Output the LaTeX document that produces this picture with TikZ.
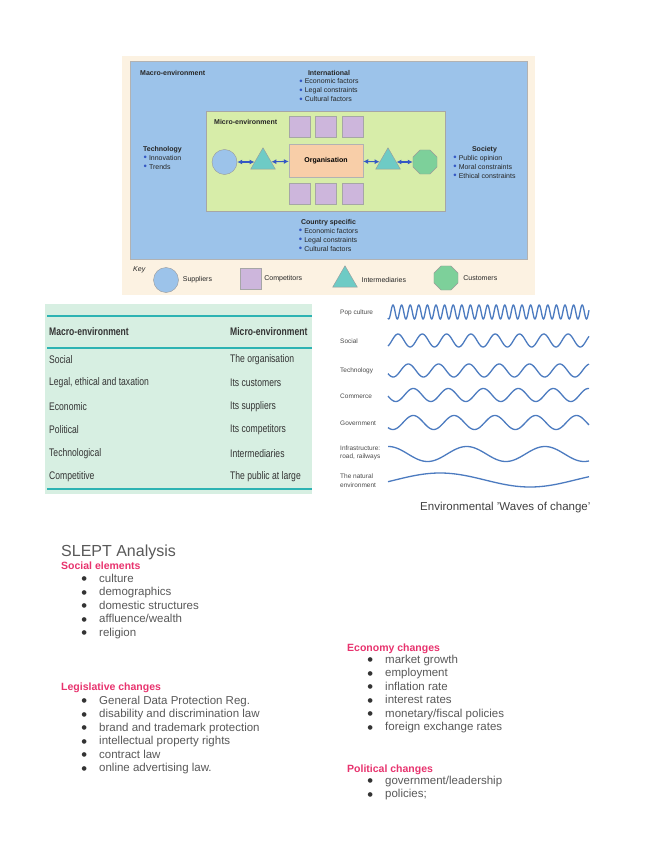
\documentclass[tikz,border=0pt]{standalone}
\usepackage{fontspec}
\setmainfont{Liberation Sans}
\newfontfamily\narrowfont[FakeStretch=0.78]{Liberation Sans}
\newfontfamily\symbolfont{DejaVu Sans}
\usetikzlibrary{positioning,shapes.geometric,arrows.meta}
\definecolor{cream}{HTML}{FCF2E2}
\definecolor{macroblue}{HTML}{9CC3EA}
\definecolor{microgreen}{HTML}{D7EDA9}
\definecolor{orgorange}{HTML}{F8CEA8}
\definecolor{compurple}{HTML}{CDB6DC}
\definecolor{interteal}{HTML}{6ECBC5}
\definecolor{custgreen}{HTML}{7DD09A}
\definecolor{dotblue}{HTML}{3558C4}
\definecolor{tablegreen}{HTML}{D7EFE2}
\definecolor{tableteal}{HTML}{2DB3B3}
\definecolor{wavecol}{HTML}{4C7BC0}
\definecolor{headpink}{HTML}{E8336E}
\definecolor{textgray}{HTML}{595959}
\definecolor{bulletgray}{HTML}{333333}
\newcommand{\bluedot}{\raisebox{-0.6pt}{\fontsize{9.5}{9}\selectfont\textcolor{dotblue}{\textbullet}}\hspace{2pt}}
\newcommand{\greydot}{\makebox[17pt][l]{\hspace{-0.5pt}\raisebox{1.6pt}{\symbolfont\fontsize{6}{13.5}\selectfont\textcolor{bulletgray}{●}}}}
\begin{document}
\begin{tikzpicture}[x=1pt,y=-1pt,
  dtext/.style={font=\fontsize{7}{9}\selectfont, inner sep=0pt, align=left, text=black!85},
  dhead/.style={font=\fontsize{7}{9}\selectfont\bfseries, inner sep=0pt, text depth=0pt, text=black!85},
  supplier/.style={circle, draw=black!40, fill=macroblue, minimum size=25pt, inner sep=0pt},
  competitor/.style={rectangle, draw=black!35, fill=compurple, minimum size=21pt, inner sep=0pt},
  intermediary/.style={regular polygon, regular polygon sides=3, draw=black!40, fill=interteal, minimum size=28.5pt, inner sep=0pt},
  customer/.style={regular polygon, regular polygon sides=8, draw=black!40, fill=custgreen, minimum size=26pt, inner sep=0pt},
  twoway/.style={{Latex[length=5pt,width=5pt]}-{Latex[length=5pt,width=5pt]}, draw=dotblue, line width=1.1pt},
  tabcell/.style={font=\narrowfont\fontsize{11}{13}\selectfont, text=black!80, inner sep=0pt, anchor=west},
  tabhead/.style={tabcell, font=\narrowfont\fontsize{11}{13}\selectfont\bfseries},
  tabrule/.style={draw=tableteal, line width=2pt},
  wavepen/.style={draw=wavecol, line width=1.3pt},
  wavelabel/.style={font=\fontsize{6.5}{8.5}\selectfont, text=black!70, inner sep=0pt, anchor=west, align=left},
  slepthead/.style={font=\fontsize{10.5}{12}\selectfont\bfseries, text=headpink, inner sep=0pt, anchor=base west},
  sleptlist/.style={font=\fontsize{11.5}{13.5}\selectfont, text=textgray, inner sep=0pt, anchor=north west, align=left}]
\useasboundingbox (0,0) rectangle (655,848);
\fill[white] (0,0) rectangle (655,848);

% Micro and macro environment
\node (panel) at (328.5,175.5) [rectangle, fill=cream, minimum width=413pt, minimum height=239pt] {};
\node (macroenv) at (328.5,160) [rectangle, draw=black!30, fill=macroblue, minimum width=397pt, minimum height=198pt] {};
\node (microenv) at (325.5,161) [rectangle, draw=black!35, fill=microgreen, minimum width=239pt, minimum height=100pt] {};
\node (macrolabel) at (140,73) [dhead, anchor=west] {Macro-environment};
\node (microlabel) at (214,122) [dhead, anchor=west] {Micro-environment};

\node (intlhead) at (329,75.2) [dhead, anchor=base] {International};
\node (intllist) [dtext, below=2pt of intlhead] {\strut\bluedot Economic factors\\\bluedot Legal constraints\\\bluedot Cultural factors};
\node (techhead) at (162.5,151.5) [dhead, anchor=base] {Technology};
\node (techlist) [dtext, below=2pt of techhead] {\strut\bluedot Innovation\\\bluedot Trends};
\node (sochead) at (484.5,151.5) [dhead, anchor=base] {Society};
\node (soclist) [dtext, below=2pt of sochead] {\strut\bluedot Public opinion\\\bluedot Moral constraints\\\bluedot Ethical constraints};
\node (countryhead) at (328.5,224.5) [dhead, anchor=base] {Country specific};
\node (countrylist) [dtext, below=2pt of countryhead] {\strut\bluedot Economic factors\\\bluedot Legal constraints\\\bluedot Cultural factors};

\node (org) at (326,160.5) [rectangle, draw=black!30, fill=orgorange, minimum width=74pt, minimum height=33pt, font=\fontsize{7}{9}\selectfont\bfseries] {Organisation};
\node (comp2) [competitor, above=6pt of org] {};
\node (comp1) [competitor, left=5pt of comp2] {};
\node (comp3) [competitor, right=5pt of comp2] {};
\node (comp5) [competitor, below=6pt of org] {};
\node (comp4) [competitor, left=5pt of comp5] {};
\node (comp6) [competitor, right=5pt of comp5] {};

\node (sup) at (224.5,162) [supplier] {};
\node (inter1) at (263,162) [intermediary] {};
\node (inter2) at (388,162) [intermediary] {};
\node (cust) at (425,162) [customer] {};
\draw[twoway] (sup) -- (inter1);
\draw[twoway] (inter1) -- (org);
\draw[twoway] (org) -- (inter2);
\draw[twoway] (inter2) -- (cust);

% Key
\node (keylabel) at (133,270) [dtext, anchor=west, font=\fontsize{7}{9}\selectfont\itshape] {Key};
\node (keysup) at (166,280) [supplier] {};
\node (keysuptext) [dtext, right=4pt of keysup] {Suppliers};
\node (keycomp) at (250.5,278.5) [competitor] {};
\node (keycomptext) [dtext, right=3pt of keycomp] {Competitors};
\node (keyinter) at (345,280) [intermediary] {};
\node (keyintertext) [dtext, right=8pt of keyinter] {Intermediaries};
\node (keycust) at (446,278) [customer] {};
\node (keycusttext) [dtext, right=5pt of keycust] {Customers};

% Table
\node (table) at (178.5,399) [rectangle, fill=tablegreen, minimum width=267pt, minimum height=190pt] {};
\draw[tabrule] (47,315.5) -- (312,315.5);
\draw[tabrule] (47,347.5) -- (312,347.5);
\draw[tabrule] (47,489) -- (312,489);
\node (macrohead) at (49,332) [tabhead] {Macro-environment};
\node (microhead) at (230,332) [tabhead] {Micro-environment};
\node (macro1) at (49,360) [tabcell] {Social};
\node (micro1) at (230,360) [tabcell] {The organisation};
\node (macro2) at (49,383) [tabcell] {Legal, ethical and taxation};
\node (micro2) at (230,383) [tabcell] {Its customers};
\node (macro3) at (49,407) [tabcell] {Economic};
\node (micro3) at (230,407) [tabcell] {Its suppliers};
\node (macro4) at (49,430) [tabcell] {Political};
\node (micro4) at (230,430) [tabcell] {Its competitors};
\node (macro5) at (49,454) [tabcell] {Technological};
\node (micro5) at (230,454) [tabcell] {Intermediaries};
\node (macro6) at (49,477) [tabcell] {Competitive};
\node (micro6) at (230,477) [tabcell] {The public at large};

% Waves of change
\node (popwave) at (340,313) [wavelabel] {Pop culture};
\node (socwave) at (340,341) [wavelabel] {Social};
\node (techwave) at (340,371) [wavelabel] {Technology};
\node (comwave) at (340,396) [wavelabel] {Commerce};
\node (govwave) at (340,423) [wavelabel] {Government};
\node (infwave) at (340,453) [wavelabel] {Infrastructure:\\road, railways};
\node (natwave) at (340,480.5) [wavelabel] {The natural\\environment};
\draw[wavepen] plot[domain=0:201, samples=500] (388+\x, {312-7*cos((388+\x-393)/8.6*360)});
\draw[wavepen] plot[domain=0:201, samples=200] (388+\x, {340.5-6.5*cos((388+\x-398)/24.3*360)});
\draw[wavepen] plot[domain=0:201, samples=200] (388+\x, {370.5-6.5*cos((388+\x-408.3)/30.3*360)});
\draw[wavepen] plot[domain=0:201, samples=200] (388+\x, {395-6.5*cos((388+\x-413.3)/35*360)});
\draw[wavepen] plot[domain=0:201, samples=200] (388+\x, {422.5-7*cos((388+\x-413.3)/40.8*360)});
\draw[wavepen] plot[domain=0:201, samples=200] (388+\x, {454-7.5*cos((388+\x-466.7)/78.3*360)});
\draw[wavepen] plot[domain=0:201, samples=200] (388+\x, {480-7*cos((388+\x-440)/180*360)});
\node (wavecaption) at (420,508) [anchor=west, inner sep=0pt, font=\fontsize{11.5}{13}\selectfont, text=black!75] {Environmental 'Waves of change'};

% SLEPT
\node (slept) at (61,556) [anchor=base west, inner sep=0pt, font=\fontsize{16}{18}\selectfont, text=textgray] {SLEPT Analysis};
\node (socialhead) at (61,569.3) [slepthead] {Social elements};
\node (sociallist) at (82,572.5) [sleptlist] {\strut\greydot culture\\\greydot demographics\\\greydot domestic structures\\\greydot affluence/wealth\\\greydot religion};
\node (leghead) at (61,690.3) [slepthead] {Legislative changes};
\node (leglist) at (82,694.5) [sleptlist] {\strut\greydot General Data Protection Reg.\\\greydot disability and discrimination law\\\greydot brand and trademark protection\\\greydot intellectual property rights\\\greydot contract law\\\greydot online advertising law.};
\node (econhead) at (347,651.3) [slepthead] {Economy changes};
\node (econlist) at (368,653.5) [sleptlist] {\strut\greydot market growth\\\greydot employment\\\greydot inflation rate\\\greydot interest rates\\\greydot monetary/fiscal policies\\\greydot foreign exchange rates};
\node (polhead) at (347,772.3) [slepthead] {Political changes};
\node (pollist) at (368,774.5) [sleptlist] {\strut\greydot government/leadership\\\greydot policies;};
\end{tikzpicture}
\end{document}
